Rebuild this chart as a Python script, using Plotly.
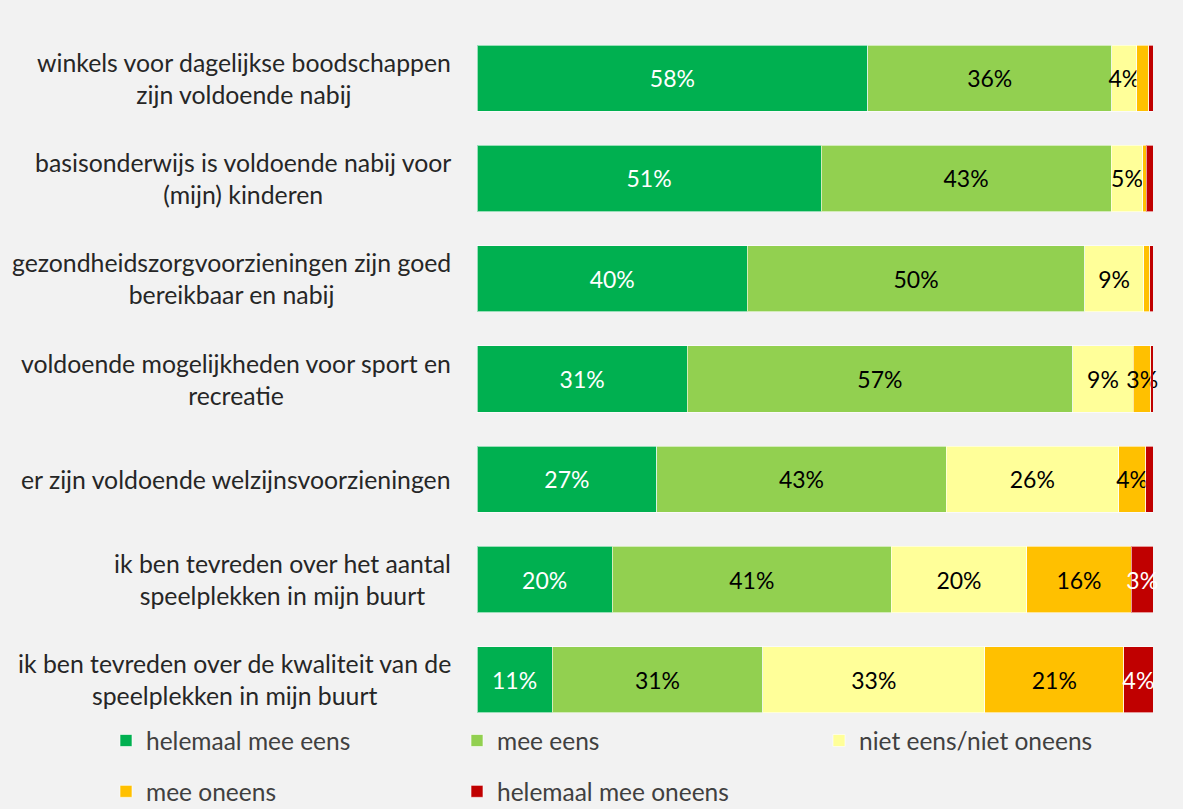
import plotly.graph_objects as go

categories = [
    "winkels voor dagelijkse boodschappen<br>zijn voldoende nabij",
    "basisonderwijs is voldoende nabij voor<br>(mijn) kinderen",
    "gezondheidszorgvoorzieningen zijn goed<br>bereikbaar en nabij",
    "voldoende mogelijkheden voor sport en<br>recreatie",
    "er zijn voldoende welzijnsvoorzieningen",
    "ik ben tevreden over het aantal<br>speelplekken in mijn buurt",
    "ik ben tevreden over de kwaliteit van de<br>speelplekken in mijn buurt",
]

series_names = ["helemaal mee eens", "mee eens", "niet eens/niet oneens",
                "mee oneens", "helemaal mee oneens"]

helemaal_mee_eens = [57.8, 50.9, 40.0, 31.1, 26.6, 20.0, 11.1]
mee_eens = [36.1, 42.9, 49.9, 57.0, 42.8, 41.3, 31.2]
niet_eens_niet_oneens = [3.7, 4.7, 8.7, 9.0, 25.5, 20.0, 32.8]
mee_oneens = [1.8, 0.5, 0.9, 2.6, 4.0, 15.5, 20.6]
helemaal_mee_oneens = [0.6, 1.0, 0.5, 0.3, 1.1, 3.2, 4.3]

series_values = [helemaal_mee_eens, mee_eens, niet_eens_niet_oneens,
                 mee_oneens, helemaal_mee_oneens]
colors = ["#00B050", "#92D050", "#FFFF99", "#FFC000", "#C00000"]
text_colors = ["white", "black", "black", "black", "white"]
legend_ids = ["legend", "legend2", "legend3", "legend", "legend2"]

FONT = "Lato"
fig = go.Figure()
for name, vals, col, tcol, lg in zip(series_names, series_values, colors,
                                      text_colors, legend_ids):
    labels = [f"{round(v)}%" if v >= 2.5 else "" for v in vals]
    fig.add_trace(go.Bar(
        y=categories, x=vals, name=name, orientation="h",
        marker=dict(color=col, line=dict(color="rgba(255,255,255,0.6)", width=1)),
        text=labels, textposition="inside", insidetextanchor="middle",
        textangle=0, constraintext="none", cliponaxis=False,
        textfont=dict(family=FONT, size=23, color=tcol),
        legend=lg, legendgroup=name, hoverinfo="skip",
    ))

annotations = []
for c in categories:
    annotations.append(dict(
        x=-0.035, xref="paper", y=c, yref="y", text=c, showarrow=False,
        xanchor="right", align="center",
        font=dict(family=FONT, size=24.8, color="#262626"),
    ))

leg_common = dict(orientation="v", bgcolor="rgba(0,0,0,0)", traceorder="grouped",
                  tracegroupgap=16, yanchor="top", y=0.017,
                  font=dict(family=FONT, size=24.5, color="#404040"))

fig.update_layout(
    width=1183, height=809,
    margin=dict(l=477, r=30, t=28, b=79, autoexpand=False),
    paper_bgcolor="#F2F2F2", plot_bgcolor="#F2F2F2",
    barmode="stack", bargap=0.34,
    xaxis=dict(range=[0, 100], visible=False, fixedrange=True),
    yaxis=dict(categoryorder="array", categoryarray=categories,
               autorange="reversed", showticklabels=False, showgrid=False,
               zeroline=False, ticks=""),
    annotations=annotations,
    legend=dict(x=(106 - 477) / 676, **leg_common),
    legend2=dict(x=(457 - 477) / 676, **leg_common),
    legend3=dict(x=(819 - 477) / 676, **leg_common),
    showlegend=True,
)

fig.write_html("out.html", config={"displayModeBar": False},
               post_script="document.body.style.margin='0';")
